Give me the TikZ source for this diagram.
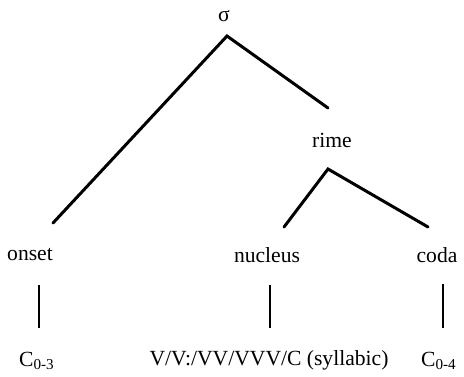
\documentclass[tikz,border=0pt]{standalone}
\usepackage{fontspec}
\setmainfont{Liberation Serif}
\usepackage{tikz}
\usetikzlibrary{positioning}

\begin{document}
\begin{tikzpicture}[
  x=0.5pt, y=-0.5pt,
  lbl/.style={inner sep=1pt, font=\fontsize{10.8}{13}\selectfont},
  br/.style={line width=1.5pt, line cap=round, line join=miter},
  ln/.style={line width=1.2pt}
]
\useasboundingbox (0,0) rectangle (464,376);

% labels
\node[lbl] (sig) at (224,16) {σ};
\node[lbl] (rime) at (332,140) {rime};
\node[lbl] (onset) at (30,255) {onset};
\node[lbl] (nuc) at (267,255) {nucleus};
\node[lbl] (coda) at (437,255) {coda};
\node[lbl] (c03) at (37,361) {C\textsubscript{0-3}};
\node[lbl] (vv) at (269,360) {V/V:/VV/VVV/C (syllabic)};
\node[lbl] (c04) at (439,361) {C\textsubscript{0-4}};

% branch points
\coordinate (sTop) at (227,36);
\coordinate (onsetEnd) at (53,223);
\coordinate (rimeEnd) at (328,108);
\coordinate (rTop) at (328,169);
\coordinate (nucEnd) at (284,227);
\coordinate (codaEnd) at (428,227);

\draw[br] (onsetEnd) -- (sTop) -- (rimeEnd);
\draw[br] (nucEnd) -- (rTop) -- (codaEnd);

% association lines
\coordinate (a1) at (39,285);  \coordinate (a2) at (39,328);
\coordinate (b1) at (270,285); \coordinate (b2) at (270,328);
\coordinate (c1) at (443,284); \coordinate (c2) at (443,328);
\draw[ln] (a1) -- (a2);
\draw[ln] (b1) -- (b2);
\draw[ln] (c1) -- (c2);
\end{tikzpicture}
\end{document}
